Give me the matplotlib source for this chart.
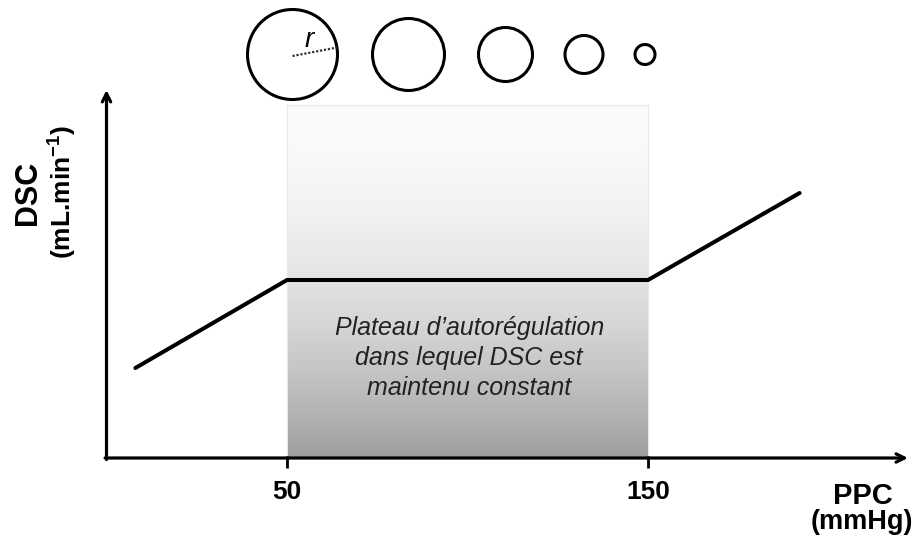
import numpy as np
import matplotlib
matplotlib.use("Agg")
import matplotlib.pyplot as plt
from matplotlib.patches import Circle

plt.rcParams['font.family'] = ['Liberation Sans', 'DejaVu Sans']
plt.rcParams['mathtext.fontset'] = 'custom'
plt.rcParams['mathtext.rm'] = 'Liberation Sans:bold'
plt.rcParams['mathtext.bf'] = 'Liberation Sans:bold'

# ---- data ----
ppc = [8, 50, 150, 192]          # mmHg
dsc = [90, 178, 178, 265]        # arbitrary units
plateau_range = [50, 150]
tick_values = [50, 150]
tick_labels = ["50", "150"]
vessel_radii = [45, 36, 27, 19, 10]   # pixel radii of vessel circles
box_text = "Plateau d\u2019autor\u00e9gulation\ndans lequel DSC est\nmaintenu constant"

W, H = 923, 546
fig = plt.figure(figsize=(W / 100, H / 100), dpi=100)

# main data axes: x px = 106.5 + 3.61*x ; y px = 458 - y
px_per_x = 3.61
x0_px, y0_px = 106.5, 458
ax = fig.add_axes([0, 0, 1, 1])
ax.set_xlim(-x0_px / px_per_x, (W - x0_px) / px_per_x)
ax.set_ylim(-(H - y0_px), y0_px)
ax.axis('off')

# gradient box
box_top = 353
n = 256
grad = (np.linspace(0, 1, n) ** 1.9)[:, None]
top_c = np.array([0.985, 0.985, 0.985])
bot_c = np.array([0.62, 0.62, 0.62])
img = top_c[None, None, :] * (1 - grad[:, :, None]) + bot_c[None, None, :] * grad[:, :, None]
img = np.repeat(img, 2, axis=1)
ax.imshow(img, extent=[plateau_range[0], plateau_range[1], 0, box_top],
          aspect='auto', origin='upper', zorder=1, interpolation='bilinear')
ax.plot([plateau_range[0], plateau_range[0], plateau_range[1], plateau_range[1]],
        [0, box_top, box_top, 0], color='#e8e8e8', lw=0.8, zorder=1.5)

# axes arrows
ax.annotate('', xy=(0, 368), xytext=(0, -1.5),
            arrowprops=dict(arrowstyle='->,head_length=0.6,head_width=0.3',
                            lw=2.3, color='black', shrinkA=0, shrinkB=0), zorder=3)
ax.annotate('', xy=(222, 0), xytext=(-0.4, 0),
            arrowprops=dict(arrowstyle='->,head_length=0.6,head_width=0.3',
                            lw=2.3, color='black', shrinkA=0, shrinkB=0), zorder=3)

# ticks and labels
for v, lab in zip(tick_values, tick_labels):
    ax.plot([v, v], [2, -10], color='black', lw=2.0, zorder=3, solid_capstyle='butt')
    ax.text(v, -34, lab, ha='center', va='center', fontsize=19, fontweight='bold')

# DSC curve
ax.plot(ppc, dsc, color='black', lw=2.9, zorder=4, solid_capstyle='round',
        solid_joinstyle='miter')

# box text
ax.text(sum(plateau_range) / 2 + 0.5, 100, box_text, ha='center', va='center',
        fontsize=18, style='italic', color='#222222', linespacing=1.33, zorder=5)

# axis titles
ax.text(-(x0_px - 28) / px_per_x, y0_px - 193, "DSC", rotation=90, ha='center',
        va='center', fontsize=22, fontweight='bold')
ax.text(-(x0_px - 62) / px_per_x, y0_px - 192, "(mL.min$^{-1}$)", rotation=90,
        ha='center', va='center', fontsize=19, fontweight='bold')
ax.text((863 - x0_px) / px_per_x, y0_px - 496, "PPC", ha='center', va='center',
        fontsize=21, fontweight='bold')
ax.text((862 - x0_px) / px_per_x, y0_px - 522, "(mmHg)", ha='center', va='center',
        fontsize=19.5, fontweight='bold')

# overlay in pixel space for vessel circles
ov = fig.add_axes([0, 0, 1, 1], facecolor='none')
ov.set_xlim(0, W)
ov.set_ylim(H, 0)
ov.axis('off')
centers_x = [292.5, 408.5, 505.5, 584, 645]
cy = 54.5
for cx, r in zip(centers_x, vessel_radii):
    ov.add_patch(Circle((cx, cy), r, fill=False, lw=2.2, ec='black'))
ov.plot([292.5, 337], [56, 47.5], color='#333333', lw=1.6, ls=(0, (1, 0.8)))
ov.text(309, 40, "r", style='italic', fontsize=20, ha='center', va='center')

fig.savefig("out.png", dpi=100)
